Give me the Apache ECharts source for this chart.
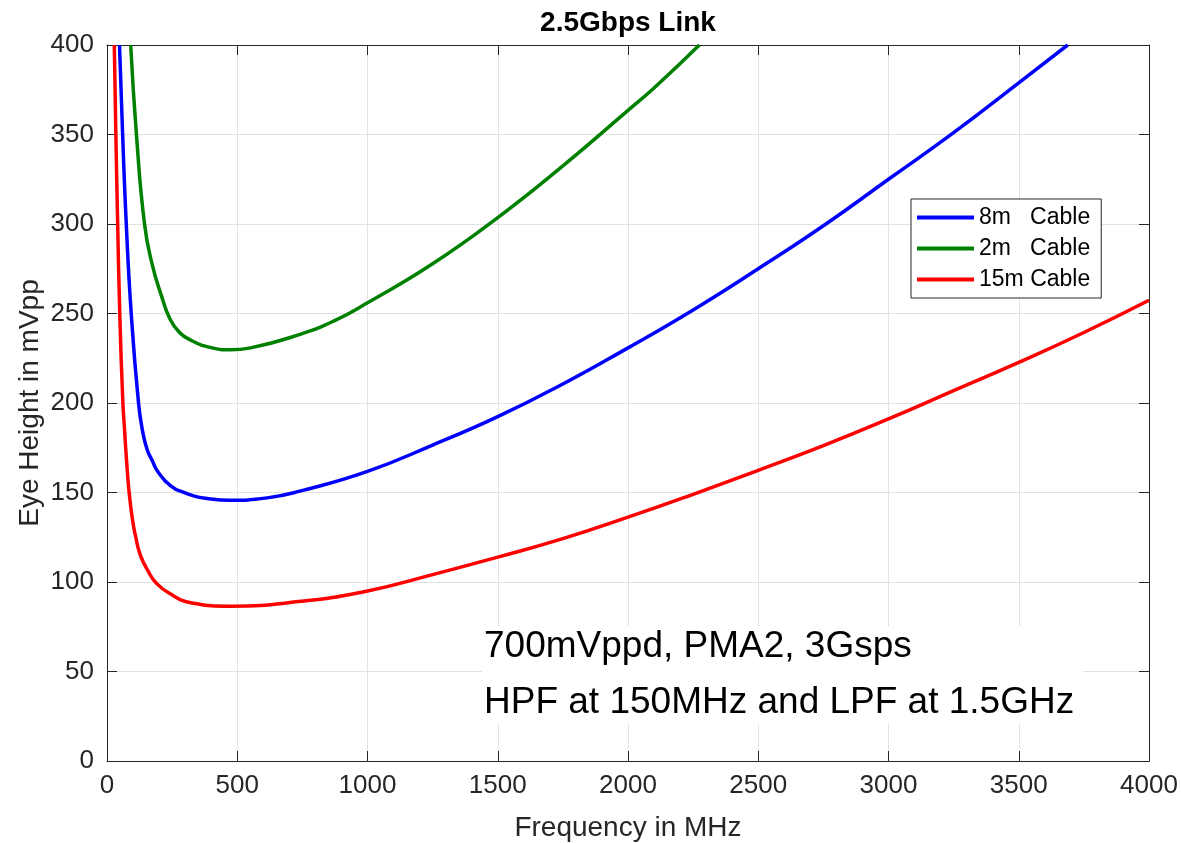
<!DOCTYPE html>
<html>
<head>
<meta charset="utf-8">
<script src="https://cdn.jsdelivr.net/npm/echarts@6/dist/echarts.min.js"></script>
<style>
html,body{margin:0;padding:0;background:#ffffff;}
#chart{width:1181px;height:843px;}
</style>
</head>
<body>
<div id="chart"></div>
<script>
// ---- data ----
const chartTitle = '2.5Gbps Link';
const xAxisName = 'Frequency in MHz';
const yAxisName = 'Eye Height in mVpp';
const seriesNames = ['8m   Cable', '2m   Cable', '15m Cable'];
const seriesColors = ['#0000ff', '#008000', '#ff0000'];

const xTicks = [0, 500, 1000, 1500, 2000, 2500, 3000, 3500, 4000];
const yTicks = [0, 50, 100, 150, 200, 250, 300, 350, 400];

// 8m cable
const freq8 = [48, 60, 74, 93, 121, 137, 154, 173, 198, 250, 290, 339, 377, 468, 615, 744, 1000, 1250, 1500, 1750, 2000, 2250, 2500, 2750, 3000, 3250, 3500, 3688];
const eye8  = [400, 350, 300, 250, 200, 184, 174, 168, 161, 153.2, 150.3, 147.8, 146.8, 145.7, 147, 150.9, 161.8, 176.5, 192.4, 210.6, 230.8, 252, 275, 299, 325, 351, 378.8, 400];

// 2m cable
const freq2 = [91, 113, 144, 173, 211, 240, 275, 326, 396, 474, 551, 744, 872, 1000, 1250, 1500, 1750, 2000, 2100, 2274];
const eye2  = [400, 350, 300, 277.7, 259, 247.5, 240, 234.8, 231.1, 229.7, 230.8, 238.5, 245.9, 256, 277.8, 303.6, 332.5, 363.5, 376, 400];

// 15m cable
const freq15 = [28, 34, 41, 49, 61, 67, 74, 85, 98, 109, 128, 160, 188, 236, 326, 474, 744, 1000, 1250, 1500, 1750, 2000, 2250, 2500, 2750, 3000, 3250, 3500, 3750, 4000];
const eye15  = [400, 350, 300, 250, 200, 186, 170, 150, 134.6, 126, 115, 105.5, 99.6, 94, 88.3, 86.5, 89.2, 95, 104.1, 113.9, 124.2, 136.2, 149, 162.4, 176.2, 191.1, 206.9, 222.7, 239.4, 257.4];

const annotationLines = ['700mVppd, PMA2, 3Gsps', 'HPF at 150MHz and LPF at 1.5GHz'];

// ---- chart ----
const pairs = (xs, ys) => xs.map((x, i) => [x, ys[i]]);
const allSeries = [pairs(freq8, eye8), pairs(freq2, eye2), pairs(freq15, eye15)];

const FONT = '"Liberation Sans", Arial, Helvetica, sans-serif';
const AX = '#262626';
const GRID = '#e2e2e2';

const chart = echarts.init(document.getElementById('chart'), null, {renderer: 'canvas'});

function baseAxis(ticks, pos, withLabels) {
  return {
    type: 'value',
    position: pos,
    min: ticks[0],
    max: ticks[ticks.length - 1],
    interval: ticks[1] - ticks[0],
    axisLine: {show: true, onZero: false, lineStyle: {color: AX, width: 1}},
    axisTick: {show: true, inside: true, length: 10, lineStyle: {color: AX, width: 1}},
    axisLabel: {show: withLabels, fontFamily: FONT, fontSize: 26, color: AX, margin: 12,
                formatter: (v) => String(v)},
    splitLine: {show: withLabels, lineStyle: {color: GRID, width: 1}},
    animation: false
  };
}

const xBottom = Object.assign(baseAxis(xTicks, 'bottom', true), {
  name: xAxisName, nameLocation: 'middle', nameGap: 53, nameMoveOverlap: false,
  nameTextStyle: {fontFamily: FONT, fontSize: 28, color: AX}
});
const xTop = baseAxis(xTicks, 'top', false);
const yLeft = Object.assign(baseAxis(yTicks, 'left', true), {
  name: yAxisName, nameLocation: 'middle', nameGap: 63, nameMoveOverlap: false,
  nameTextStyle: {fontFamily: FONT, fontSize: 28, color: AX}
});
yLeft.axisLabel.margin = 13;
const yRight = baseAxis(yTicks, 'right', false);

const option = {
  animation: false,
  backgroundColor: '#ffffff',
  title: {
    text: chartTitle,
    left: 628,
    top: 9,
    padding: 0,
    textAlign: 'center',
    textStyle: {fontFamily: FONT, fontSize: 28, fontWeight: 'bold', color: '#000000'}
  },
  grid: {left: 107, right: 32, top: 45, bottom: 82, containLabel: false, outerBoundsMode: 'none'},
  xAxis: [xBottom, xTop],
  yAxis: [yLeft, yRight],
  legend: {
    orient: 'vertical',
    left: 911,
    top: 199,
    padding: [7, 11, 7, 6],
    itemGap: 8,
    itemWidth: 57,
    itemHeight: 4,
    itemStyle: {borderWidth: 0},
    icon: 'rect',
    backgroundColor: '#ffffff',
    borderColor: AX,
    borderWidth: 1,
    borderRadius: 0,
    textStyle: {fontFamily: FONT, fontSize: 23, color: '#000000', padding: [0, 0, 0, 0]},
    data: seriesNames
  },
  series: allSeries.map((d, i) => ({
    name: seriesNames[i],
    type: 'line',
    xAxisIndex: 0,
    yAxisIndex: 0,
    data: d,
    showSymbol: false,
    symbol: 'none',
    smooth: 0.5,
    clip: true,
    lineStyle: {color: seriesColors[i], width: 3.5},
    itemStyle: {color: seriesColors[i]},
    z: 3
  })),
  graphic: [
    {
      type: 'group',
      z: 20,
      children: [
        {type: 'rect', shape: {x: 482, y: 626, width: 601, height: 98}, style: {fill: '#ffffff'}, z: 20},
        {type: 'text', x: 484, y: 647, z: 21, style: {text: annotationLines[0], font: '37px ' + FONT, fill: '#000000', verticalAlign: 'middle', align: 'left'}},
        {type: 'text', x: 484, y: 703, z: 21, style: {text: annotationLines[1], font: '37px ' + FONT, fill: '#000000', verticalAlign: 'middle', align: 'left'}}
      ]
    }
  ]
};

chart.setOption(option);
</script>
</body>
</html>
